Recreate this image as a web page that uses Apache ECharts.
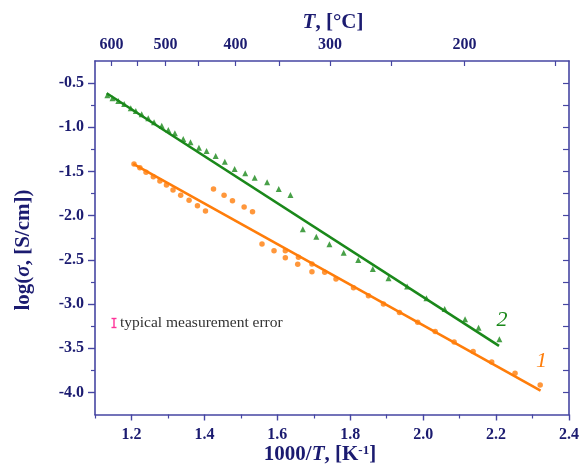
<!DOCTYPE html>
<html>
<head>
<meta charset="utf-8">
<script src="https://cdn.jsdelivr.net/npm/echarts@6/dist/echarts.min.js"></script>
<style>
  html, body { margin: 0; padding: 0; background: #ffffff; }
  #chart { width: 582px; height: 466px; }
</style>
</head>
<body>
<div id="chart"></div>
<script>
// Conductivity data, log(sigma) vs 1000/T
const sample2X = [1.134, 1.148, 1.164, 1.180, 1.198, 1.212, 1.228, 1.246, 1.262, 1.283, 1.301, 1.319,
  1.342, 1.362, 1.385, 1.406, 1.431, 1.456, 1.483, 1.512, 1.538, 1.572, 1.604, 1.636,
  1.670, 1.707, 1.743, 1.782, 1.822, 1.862, 1.905, 1.956, 2.009, 2.059, 2.115, 2.152, 2.209];
const sample2Y = [-0.638, -0.672, -0.702, -0.736, -0.785, -0.816, -0.853, -0.898, -0.943, -0.982, -1.031, -1.068,
  -1.132, -1.170, -1.231, -1.268, -1.325, -1.389, -1.472, -1.520, -1.570, -1.622, -1.698, -1.766,
  -2.154, -2.238, -2.324, -2.419, -2.501, -2.603, -2.708, -2.803, -2.934, -3.055, -3.172, -3.267, -3.398];

const sample1X = [1.207, 1.223, 1.240, 1.260, 1.278, 1.296, 1.314, 1.335, 1.358, 1.381, 1.403,
  1.425, 1.454, 1.477, 1.509, 1.532,
  1.558, 1.591, 1.622, 1.622, 1.658, 1.656, 1.695, 1.695, 1.730, 1.761, 1.809, 1.850,
  1.891, 1.935, 1.985, 2.033, 2.085, 2.137, 2.188, 2.252, 2.321];
const sample1Y = [-1.415, -1.457, -1.509, -1.559, -1.607, -1.653, -1.709, -1.769, -1.826, -1.887, -1.947,
  -1.698, -1.769, -1.830, -1.902, -1.955,
  -2.320, -2.396, -2.396, -2.475, -2.471, -2.550, -2.546, -2.634, -2.640, -2.718, -2.815, -2.905,
  -3.000, -3.097, -3.206, -3.312, -3.429, -3.538, -3.655, -3.783, -3.915];

// Linear fits (end points)
const fit2X = [1.132, 2.208];
const fit2Y = [-0.615, -3.474];
const fit1X = [1.205, 2.322];
const fit1Y = [-1.415, -3.980];

// Axis ticks
const xMajor = [1.2, 1.4, 1.6, 1.8, 2.0, 2.2, 2.4];
const xMinor = [1.1, 1.3, 1.5, 1.7, 1.9, 2.1, 2.3];
const yMajor = [-4.0, -3.5, -3.0, -2.5, -2.0, -1.5, -1.0, -0.5];
const yMinor = [-3.75, -3.25, -2.75, -2.25, -1.75, -1.25, -0.75];
const tempMajor = [600, 500, 400, 300, 200];   // °C
const tempMinor = [550, 450, 350, 250, 150];   // °C

const X_MIN = 1.1, X_MAX = 2.4, Y_MIN = -4.25, Y_MAX = -0.25;

const invT = t => 1000 / (t + 273.15);
const tempMajorPos = tempMajor.map(invT);
const tempAllPos = tempMajor.concat(tempMinor).map(invT).sort((a, b) => a - b);
const yAll = yMajor.concat(yMinor).sort((a, b) => a - b);

const zip = (xs, ys) => xs.map((x, i) => [x, ys[i]]);

const NAVY = '#1b1b70';
const AXIS = '#4646a2';
const GREEN = '#1a881a';
const ORANGE = '#ff7d0a';
const SERIF = "'Liberation Serif', 'Times New Roman', serif";

const tickFont = { color: NAVY, fontFamily: SERIF, fontWeight: 'bold', fontSize: 16 };
const axisLine = { show: true, lineStyle: { color: AXIS, width: 1.6 } };

function valueAxis(extra) {
  return Object.assign({
    type: 'value',
    splitLine: { show: false },
    axisLine: { show: false },
    axisLabel: { show: false },
    axisTick: { show: false }
  }, extra);
}

const chart = echarts.init(document.getElementById('chart'), null, { renderer: 'canvas' });

chart.setOption({
  animation: false,
  backgroundColor: '#ffffff',
  grid: { left: 95, right: 12, top: 61, bottom: 51.5, containLabel: false },
  xAxis: [
    valueAxis({
      position: 'bottom', min: X_MIN, max: X_MAX,
      axisLine: axisLine,
      axisTick: { show: true, inside: false, length: 6, customValues: xMajor, lineStyle: { color: AXIS, width: 1.4 } },
      axisLabel: Object.assign({ show: true, margin: 12, customValues: xMajor, formatter: v => v.toFixed(1) }, tickFont)
    }),
    valueAxis({
      position: 'bottom', min: X_MIN, max: X_MAX,
      axisTick: { show: true, inside: false, length: 4, customValues: xMinor, lineStyle: { color: AXIS, width: 1.2 } }
    }),
    valueAxis({
      position: 'top', min: X_MIN, max: X_MAX,
      axisLine: axisLine,
      axisTick: { show: true, inside: true, length: 5, customValues: tempAllPos, lineStyle: { color: AXIS, width: 1.2 } },
      axisLabel: Object.assign({ show: true, margin: 8, customValues: tempMajorPos,
        formatter: v => String(Math.round(1000 / v - 273.15)) }, tickFont)
    })
  ],
  yAxis: [
    valueAxis({
      position: 'left', min: Y_MIN, max: Y_MAX,
      axisLine: axisLine,
      axisTick: { show: true, inside: false, length: 7, customValues: yMajor, lineStyle: { color: AXIS, width: 1.4 } },
      axisLabel: Object.assign({ show: true, margin: 11, customValues: yMajor, formatter: v => v.toFixed(1) }, tickFont)
    }),
    valueAxis({
      position: 'left', min: Y_MIN, max: Y_MAX,
      axisTick: { show: true, inside: false, length: 4, customValues: yMinor, lineStyle: { color: AXIS, width: 1.2 } }
    }),
    valueAxis({
      position: 'right', min: Y_MIN, max: Y_MAX,
      axisLine: axisLine,
      axisTick: { show: true, inside: true, length: 6, customValues: yAll, lineStyle: { color: AXIS, width: 1.2 } }
    })
  ],
  series: [
    {
      name: 'fit 2', type: 'line', data: zip(fit2X, fit2Y),
      showSymbol: false, symbol: 'none',
      lineStyle: { color: GREEN, width: 2.6 },
      endLabel: { show: true, formatter: '2', color: GREEN, fontFamily: SERIF, fontStyle: 'italic',
        fontSize: 22, align: 'center', verticalAlign: 'middle', distance: 0, offset: [3, -26] },
      z: 2
    },
    {
      name: 'fit 1', type: 'line', data: zip(fit1X, fit1Y),
      showSymbol: false, symbol: 'none',
      lineStyle: { color: ORANGE, width: 2.6 },
      endLabel: { show: true, formatter: '1', color: ORANGE, fontFamily: SERIF, fontStyle: 'italic',
        fontSize: 22, align: 'center', verticalAlign: 'middle', distance: 0, offset: [1, -29] },
      z: 2
    },
    {
      name: 'sample 2', type: 'scatter', data: zip(sample2X, sample2Y),
      symbol: 'triangle', symbolSize: 6,
      itemStyle: { color: GREEN }, z: 3
    },
    {
      name: 'sample 1', type: 'scatter', data: zip(sample1X, sample1Y),
      symbol: 'circle', symbolSize: 5.5,
      itemStyle: { color: ORANGE }, z: 3
    }
  ],
  graphic: [
    {
      type: 'text', x: 333, y: 23,
      style: {
        text: '{i|T}, [°C]',
        fontFamily: SERIF, fontWeight: 'bold', fontSize: 21, fill: NAVY,
        align: 'center', verticalAlign: 'middle',
        rich: { i: { fontFamily: SERIF, fontWeight: 'bold', fontStyle: 'italic', fontSize: 21, color: NAVY } }
      }
    },
    {
      type: 'text', x: 320, y: 455,
      style: {
        text: '1000/{i|T}, [K{s|-1}]',
        fontFamily: SERIF, fontWeight: 'bold', fontSize: 21, fill: NAVY,
        align: 'center', verticalAlign: 'middle',
        rich: {
          i: { fontFamily: SERIF, fontWeight: 'bold', fontStyle: 'italic', fontSize: 21, color: NAVY },
          s: { fontFamily: SERIF, fontWeight: 'bold', fontSize: 13, color: NAVY, verticalAlign: 'top' }
        }
      }
    },
    {
      type: 'text', x: 24, y: 250, rotation: Math.PI / 2,
      style: {
        text: 'log({i|σ}, [S/cm])',
        fontFamily: SERIF, fontWeight: 'bold', fontSize: 21, fill: NAVY,
        align: 'center', verticalAlign: 'middle',
        rich: { i: { fontFamily: SERIF, fontWeight: 'bold', fontStyle: 'italic', fontSize: 21, color: NAVY } }
      }
    },
    // typical measurement error note
    {
      type: 'group', x: 114, y: 323,
      children: [
        { type: 'line', shape: { x1: 0, y1: -4.5, x2: 0, y2: 4.5 }, style: { stroke: '#ff3399', lineWidth: 1.4 } },
        { type: 'line', shape: { x1: -2.5, y1: -4.5, x2: 2.5, y2: -4.5 }, style: { stroke: '#ff3399', lineWidth: 1.4 } },
        { type: 'line', shape: { x1: -2.5, y1: 4.5, x2: 2.5, y2: 4.5 }, style: { stroke: '#ff3399', lineWidth: 1.4 } },
        { type: 'text', x: 6, y: 0,
          style: { text: 'typical measurement error', fontFamily: SERIF, fontSize: 15.5, fill: '#333333',
            align: 'left', verticalAlign: 'middle' } }
      ]
    }
  ]
});
</script>
</body>
</html>
